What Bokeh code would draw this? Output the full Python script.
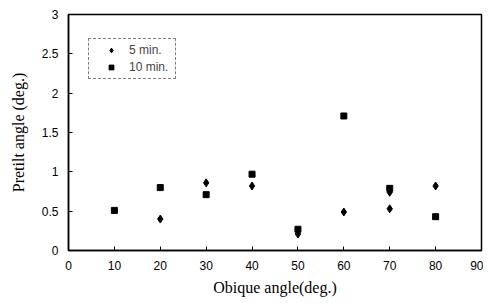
from bokeh.plotting import figure
from bokeh.models import Legend, LegendItem, FixedTicker, Range1d
from bokeh.embed import file_html
from bokeh.resources import INLINE

# data
x_5min = [20, 30, 40, 50, 60, 70, 70, 80]
y_5min = [0.40, 0.86, 0.82, 0.21, 0.49, 0.53, 0.74, 0.82]
x_10min = [10, 20, 30, 40, 50, 60, 70, 80]
y_10min = [0.51, 0.80, 0.71, 0.97, 0.27, 1.71, 0.79, 0.43]
x_ticks = [0, 10, 20, 30, 40, 50, 60, 70, 80, 90]
y_ticks = [0, 0.5, 1, 1.5, 2, 2.5, 3]
y_tick_labels = {0: "0", 0.5: "0.5", 1: "1", 1.5: "1.5", 2: "2", 2.5: "2.5", 3: "3"}

p = figure(width=483, height=298, output_backend="svg", toolbar_location=None,
           x_range=Range1d(0, 90), y_range=Range1d(0, 3),
           min_border_left=68, min_border_right=2, min_border_top=14, min_border_bottom=46)
p.background_fill_color = "white"
p.border_fill_color = "white"
p.outline_line_color = "black"
p.outline_line_width = 1.5
p.xgrid.visible = False
p.ygrid.visible = False

r1 = p.scatter(x_5min, y_5min, marker="diamond", size=8, color="black")
r2 = p.scatter(x_10min, y_10min, marker="square", size=6, color="black")

for ax in (p.xaxis, p.yaxis):
    ax.axis_line_color = "black"
    ax.axis_line_width = 1.5
    ax.major_tick_in = 4
    ax.major_tick_out = 0
    ax.minor_tick_line_color = None
    ax.major_label_text_font = "Liberation Sans"
    ax.major_label_text_font_size = "12px"
    ax.major_label_text_color = "black"
    ax.axis_label_text_font = "Liberation Serif"
    ax.axis_label_text_font_size = "16px"
    ax.axis_label_text_font_style = "normal"
    ax.axis_label_text_color = "black"

p.xaxis.ticker = FixedTicker(ticks=x_ticks)
p.yaxis.ticker = FixedTicker(ticks=y_ticks)
p.yaxis.major_label_overrides = y_tick_labels
p.xaxis.axis_label = "Obique angle(deg.)"
p.yaxis.axis_label = "Pretilt angle (deg.)"
p.xaxis.major_label_standoff = 10
p.yaxis.major_label_standoff = 10
p.xaxis.axis_label_standoff = 6
p.yaxis.axis_label_standoff = 12

legend = Legend(items=[LegendItem(label="5 min.", renderers=[r1]),
                       LegendItem(label="10 min.", renderers=[r2])],
                location=(20, 171))
legend.label_text_font = "Liberation Sans"
legend.label_text_font_size = "12px"
legend.glyph_height = 12
legend.glyph_width = 36
legend.label_height = 12
legend.label_width = 42
legend.spacing = 3
legend.padding = 4
legend.margin = 0
legend.border_line_color = "black"
legend.border_line_width = 1
legend.border_line_dash = "2 1"
legend.label_standoff = -8
p.add_layout(legend, "center")

open("out.html", "w").write(file_html(p, INLINE))
